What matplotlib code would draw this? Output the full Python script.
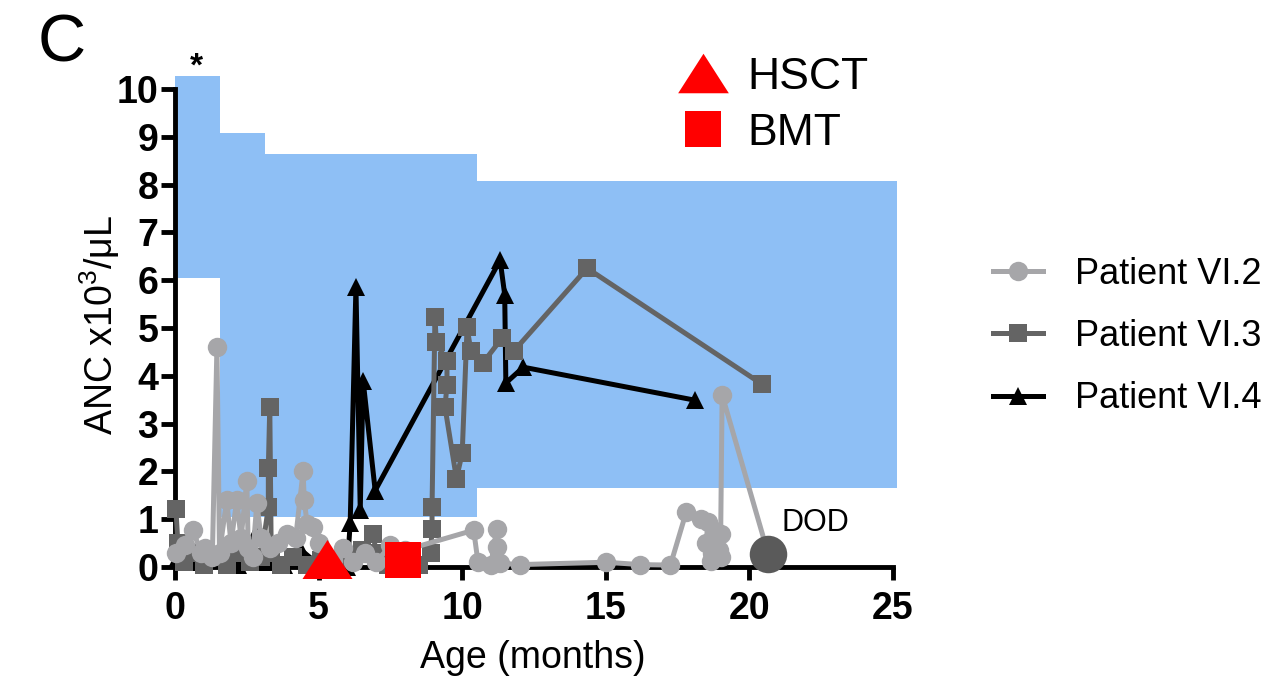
import numpy as np
import matplotlib.pyplot as plt
from matplotlib.lines import Line2D

plt.rcParams['font.family'] = ['Liberation Sans', 'DejaVu Sans']
plt.rcParams['mathtext.fontset'] = 'custom'
plt.rcParams['mathtext.rm'] = 'Liberation Sans'
plt.rcParams['mathtext.default'] = 'regular'

# normal ANC range (step band)
band_x = [0, 1.57, 3.14, 10.5, 25.15]
band_lo = [6.05, 1.05, 1.05, 1.66, 1.66]
band_hi = [10.27, 9.08, 8.63, 8.08, 8.08]

# Patient VI.2 (light grey circles)
p2_x = [0.05, 0.35, 0.63, 0.9, 1.05, 1.3, 1.46, 1.55, 1.8, 1.95, 2.15, 2.3, 2.5, 2.55,
        2.7, 2.85, 3.0, 3.3, 3.6, 3.9, 4.2, 4.46, 4.5, 4.6, 4.8, 5.0, 5.5, 5.85, 6.2,
        6.6, 7.0, 7.5, 8.0, 10.4, 10.55, 11.0, 11.2, 11.2, 11.3, 12.0, 15.0, 16.2,
        17.25, 17.8, 18.3, 18.55, 18.5, 18.7, 18.65, 18.85, 18.95, 19.0, 18.8, 19.0,
        19.05, 20.65]
p2_y = [0.3, 0.45, 0.77, 0.3, 0.4, 0.2, 4.6, 0.3, 1.4, 0.5, 1.4, 0.6, 1.8, 0.4,
        0.2, 1.33, 0.6, 0.4, 0.5, 0.7, 0.6, 2.0, 1.4, 0.9, 0.84, 0.5, 0.15, 0.4, 0.1,
        0.3, 0.1, 0.45, 0.35, 0.77, 0.1, 0.05, 0.8, 0.42, 0.08, 0.05, 0.1, 0.05,
        0.04, 1.15, 1.0, 0.95, 0.5, 0.3, 0.12, 0.6, 0.35, 0.2, 0.75, 0.7,
        3.6, 0.28]

# Patient VI.3 (dark grey squares)
p3_x = [0.03, 0.1, 0.3, 0.7, 1.0, 1.4, 1.8, 2.2, 2.6, 3.0, 3.25, 3.25, 3.3, 3.35,
        3.7, 4.1, 4.6, 5.1, 5.6, 6.0, 6.5, 6.9, 7.0, 7.4, 8.0, 8.5, 8.9, 8.95, 8.95,
        9.05, 9.1, 9.47, 9.47, 9.4, 9.8, 10.0, 10.17, 10.3, 10.72, 11.4, 11.8,
        14.35, 20.45]
p3_y = [1.22, 0.5, 0.1, 0.3, 0.05, 0.2, 0.05, 0.3, 0.1, 0.2, 1.25, 2.08, 3.35, 0.3,
        0.05, 0.2, 0.05, 0.15, 0.05, 0.2, 0.35, 0.7, 0.3, 0.05, 0.15, 0.05, 0.3, 0.8,
        1.25, 5.22, 4.7, 4.3, 3.8, 3.35, 1.85, 2.38, 5.02, 4.52, 4.27, 4.8, 4.52,
        6.25, 3.82]

# Patient VI.4 (black triangles)
p4_x = [0.1, 0.5, 1.0, 1.6, 2.2, 2.9, 3.2, 3.8, 4.4, 5.0, 5.6, 6.0, 6.1, 6.3, 6.45,
        6.55, 6.97, 11.32, 11.48, 11.52, 12.13, 18.1]
p4_y = [0.2, 0.1, 0.05, 0.2, 0.05, 0.8, 0.1, 0.05, 0.35, 0.05, 0.1, 0.0, 0.92, 5.86,
        1.2, 3.9, 1.6, 6.42, 5.7, 3.85, 4.18, 3.49]

hsct_x, hsct_y = [5.3], [0.17]
bmt_x, bmt_y = [7.95], [0.15]
dod_x, dod_y = [20.65], [0.28]

c_light = '#a6a6a9'
c_dark = '#646464'
c_blue = '#8ebff5'
tri = [(-1, -0.78), (1, -0.78), (0, 0.78)]

fig = plt.figure(figsize=(12.85, 6.85), dpi=100)
ax = fig.add_axes((175 / 1285, 1 - 567 / 685, 718 / 1285, 478 / 685))

ax.fill_between(band_x, band_lo, band_hi, step='post', color=c_blue, lw=0,
                zorder=0, clip_on=False)

(l4,) = ax.plot(p4_x, p4_y, color='black', lw=3.6, marker='^', ms=13.5,
                mew=0, zorder=3, clip_on=False, label='Patient VI.4')
(l3,) = ax.plot(p3_x, p3_y, color=c_dark, lw=3.6, marker='s', ms=13.5,
                mew=0, zorder=4, clip_on=False, label='Patient VI.3')
(l2,) = ax.plot(p2_x, p2_y, color=c_light, lw=3.6, marker='o', ms=14,
                mew=0, zorder=5, clip_on=False, label='Patient VI.2')
ax.plot(dod_x, dod_y, ls='none', marker='o', ms=27, color='#5a5a5a', mew=0,
        zorder=6, clip_on=False)
ax.plot(hsct_x, hsct_y, ls='none', marker=tri, ms=36, color='red', mew=0,
        zorder=7, clip_on=False)
ax.plot(bmt_x, bmt_y, ls='none', marker='s', ms=26.5, color='red', mew=0,
        zorder=7, clip_on=False)

ax.text(22.3, 0.92, 'DOD', fontsize=22, ha='center', va='center')
ax.text(0.75, 10.45, '*', fontsize=24, fontweight='bold', ha='center',
        va='center', clip_on=False)

ax.set_xlim(0, 25)
ax.set_ylim(0, 10)
ax.set_xticks([0, 5, 10, 15, 20, 25])
ax.set_yticks(range(0, 11))
for s in ['top', 'right']:
    ax.spines[s].set_visible(False)
for s in ['left', 'bottom']:
    ax.spines[s].set_linewidth(3.5)
ax.tick_params(axis='both', width=3.5, labelsize=27)
ax.tick_params(axis='x', length=9, pad=8)
ax.tick_params(axis='y', length=10, pad=2)
for t in ax.get_xticklabels() + ax.get_yticklabels():
    t.set_fontweight('bold')

ax.set_xlabel('Age (months)', fontsize=27, va='center')
ax.xaxis.set_label_coords(0.499, (567 - 658) / 478)
ax.set_ylabel(r'ANC x10$^3$/μL', fontsize=27, va='center')
ax.yaxis.set_label_coords((100 - 175) / 718, 0.506)

fig.text(62 / 1285, 1 - 44 / 685, 'C', fontsize=48, ha='center', va='center')

ev_handles = [
    Line2D([], [], ls='none', marker=tri, ms=36.5, color='red', mew=0),
    Line2D([], [], ls='none', marker='s', ms=26.5, color='red', mew=0),
]
fig.legend(ev_handles, ['HSCT', 'BMT'], loc='upper left',
           bbox_to_anchor=(678 / 1285, 1 - 57 / 685), frameon=False,
           fontsize=32, handlelength=1.13, handletextpad=0.43,
           labelspacing=0.33, borderpad=0, borderaxespad=0)

fig.legend([l2, l3, l4], ['Patient VI.2', 'Patient VI.3', 'Patient VI.4'],
           loc='upper left', bbox_to_anchor=(993 / 1285, 1 - 257 / 685),
           frameon=False, fontsize=26, handlelength=1.39, handletextpad=0.89,
           labelspacing=0.75, borderpad=0, borderaxespad=0)

fig.savefig('out.png', dpi=100)
